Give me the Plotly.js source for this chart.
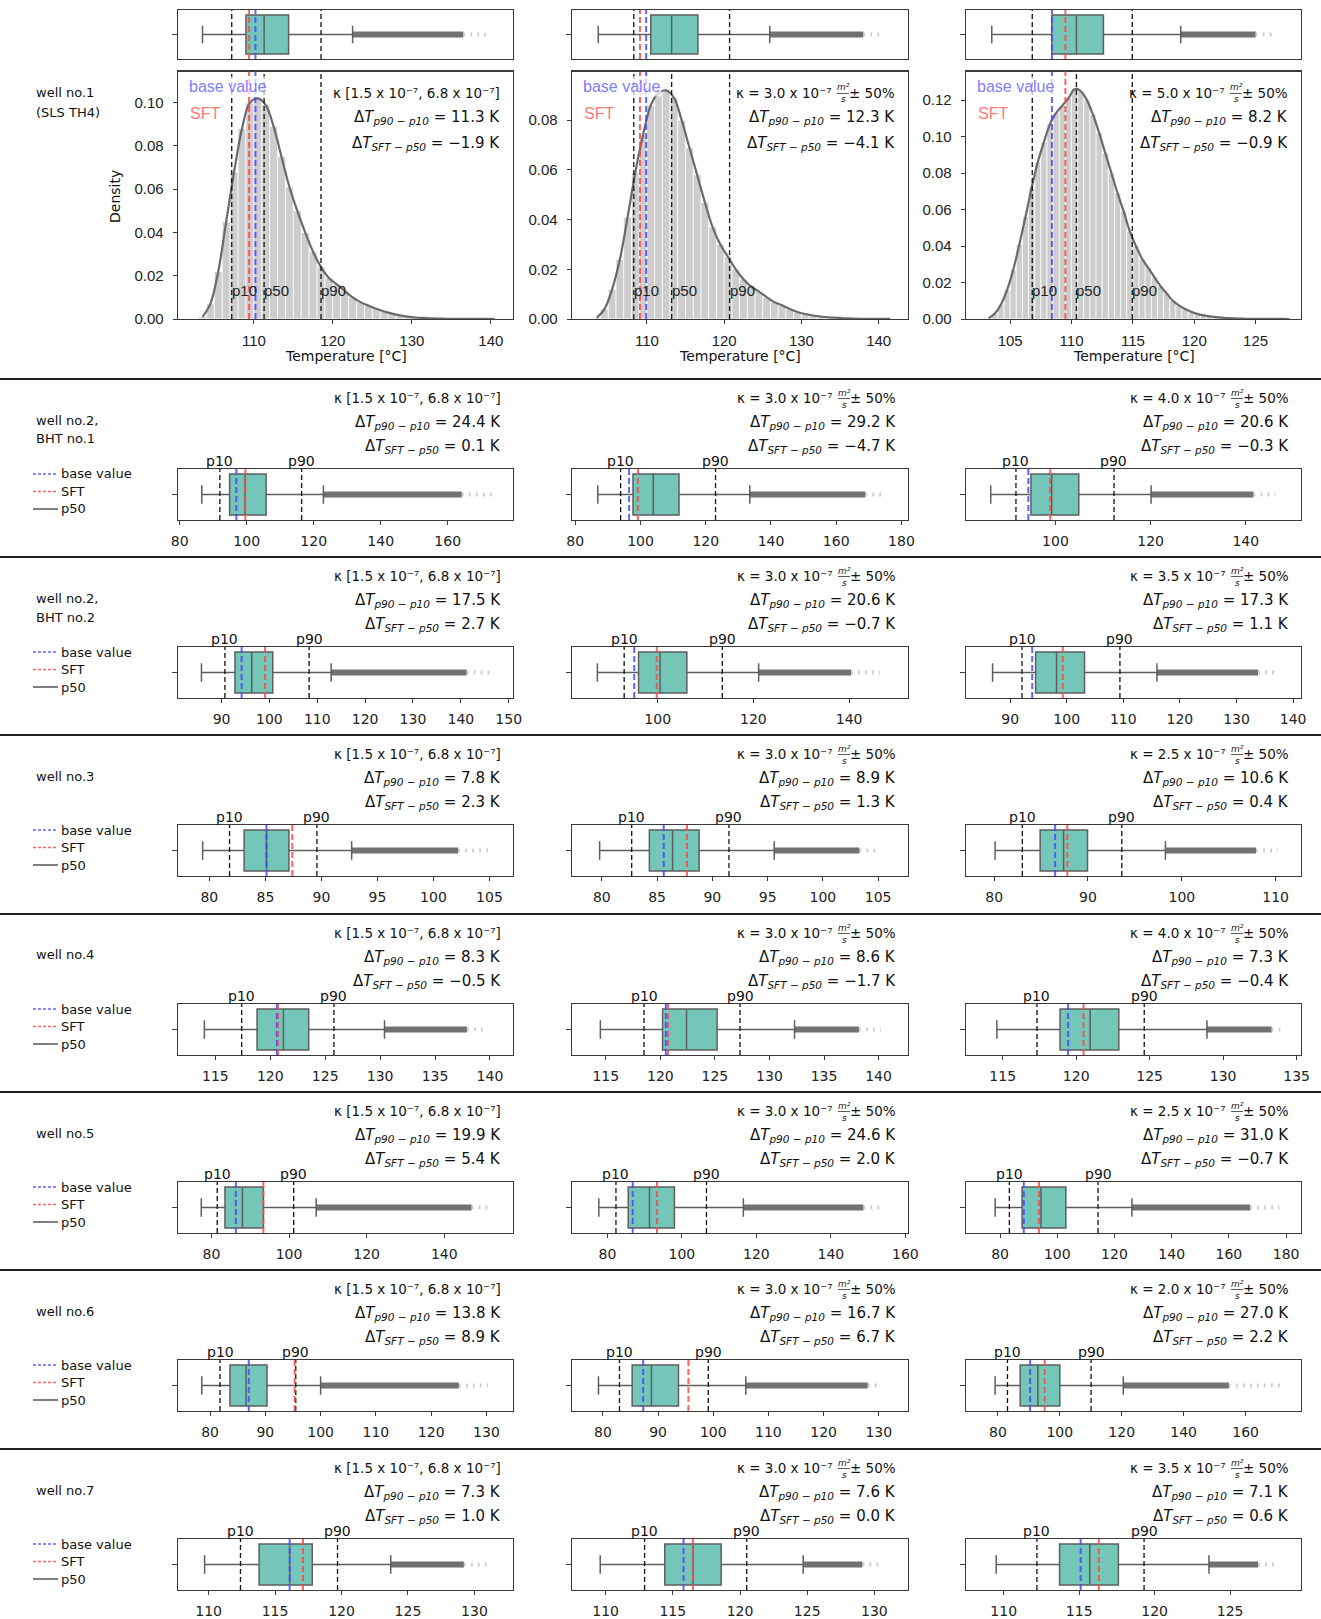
<!DOCTYPE html>
<html><head><meta charset="utf-8">
<script src="https://cdn.plot.ly/plotly-3.0.1.min.js"></script>
<style>html,body{margin:0;padding:0;background:#fff}#chart{width:1321px;height:1619px}</style>
</head><body><div id="chart"></div>
<script>
// ---------------- DATA ----------------
const wellLabels = [["well no.1","(SLS TH4)"],["well no.2,","BHT no.1"],["well no.2,","BHT no.2"],["well no.3"],["well no.4"],["well no.5"],["well no.6"],["well no.7"]];
const kappaValues = [[null,"3.0","5.0"],[null,"3.0","4.0"],[null,"3.0","3.5"],[null,"3.0","2.5"],[null,"3.0","4.0"],[null,"3.0","2.5"],[null,"3.0","2.0"],[null,"3.0","3.5"]];
const kappaRangeText = "κ [1.5 x 10⁻⁷, 6.8 x 10⁻⁷]";
const dTp90p10 = [[11.3,12.3,8.2],[24.4,29.2,20.6],[17.5,20.6,17.3],[7.8,8.9,10.6],[8.3,8.6,7.3],[19.9,24.6,31.0],[13.8,16.7,27.0],[7.3,7.6,7.1]];
const dTsftp50 = [[-1.9,-4.1,-0.9],[0.1,-4.7,-0.3],[2.7,-0.7,1.1],[2.3,1.3,0.4],[-0.5,-1.7,-0.4],[5.4,2.0,-0.7],[8.9,6.7,2.2],[1.0,0.0,0.6]];

const lowerWhisker = [[103.5,103.7,103.5],[86.6,86.9,86.4],[85.8,87.4,86.9],[79.4,79.8,80.1],[114.0,114.5,114.6],[77.4,77.7,78.3],[78.5,79.2,79.1],[109.7,109.6,109.5]];
const q1 = [[109.0,110.5,108.4],[94.9,97.7,94.85],[92.8,96.0,94.5],[83.1,84.3,84.9],[118.8,120.2,118.9],[83.5,85.6,87.7],[83.6,85.3,87.2],[113.8,114.4,113.7]];
const median = [[111.3,113.2,110.4],[99.5,103.9,99.2],[96.3,100.5,98.2],[85.1,86.4,87.4],[121.2,122.4,120.95],[88.0,91.3,94.3],[86.5,88.8,92.9],[116.1,116.5,115.7]];
const q3 = [[114.4,116.6,112.6],[105.8,111.8,104.9],[100.7,106.1,103.15],[87.1,88.8,89.95],[123.5,125.2,122.9],[93.4,98.0,103.0],[90.3,93.7,100.0],[117.8,118.6,117.6]];
const upperWhisker = [[122.5,125.9,118.9],[122.9,133.5,120.1],[112.9,121.1,115.95],[92.7,95.6,98.25],[130.4,132.3,128.9],[107.0,116.5,126.1],[100.0,105.9,120.5],[123.7,124.7,123.6]];
const p10 = [[107.2,108.3,106.8],[92.0,93.9,91.7],[90.7,93.0,92.1],[81.8,82.7,83.0],[117.4,118.5,117.33],[81.5,82.3,83.25],[81.8,83.0,83.1],[112.4,112.9,112.2]];
const p90 = [[118.5,120.7,114.95],[116.4,123.0,112.3],[108.3,113.5,109.4],[89.6,91.5,93.6],[125.8,127.3,124.63],[101.2,106.6,114.25],[95.5,99.1,110.1],[119.7,120.5,119.3]];
const baseValue = [[110.2,109.9,108.4],[96.9,96.5,94.3],[94.2,95.1,93.9],[85.1,85.6,86.5],[120.6,120.5,119.45],[86.3,86.8,88.3],[87.0,87.3,90.4],[116.1,115.8,115.1]];
const sftValue = [[109.4,109.1,109.5],[99.6,99.2,98.9],[99.1,99.8,99.3],[87.4,87.7,87.8],[120.7,120.7,120.5],[93.4,93.3,93.6],[95.3,95.5,95.1],[117.1,116.5,116.3]];
const flierDenseEnd = [[136.5,138.0,125.0],[164.2,168.9,141.6],[141.2,140.4,133.8],[102.2,103.3,107.9],[137.9,138.2,133.3],[147.0,148.7,167.4],[125.0,128.0,154.6],[129.2,129.1,126.85]];
const flierMax = [[139.9,140.5,126.5],[173.2,174.5,146.2],[146.0,146.5,136.8],[104.9,105.2,110.2],[139.7,140.2,133.9],[152.0,153.9,177.7],[130.3,130.3,171.2],[131.0,130.6,128.25]];

const xTickValues = [
 [[110,120,130,140],[110,120,130,140],[105,110,115,120,125]],
 [[80,100,120,140,160],[80,100,120,140,160,180],[100,120,140]],
 [[90,100,110,120,130,140,150],[100,120,140],[90,100,110,120,130,140]],
 [[80,85,90,95,100,105],[80,85,90,95,100,105],[80,90,100,110]],
 [[115,120,125,130,135,140],[115,120,125,130,135,140],[115,120,125,130,135]],
 [[80,100,120,140],[80,100,120,140,160],[80,100,120,140,160,180]],
 [[80,90,100,110,120,130],[80,90,100,110,120,130],[80,100,120,140,160]],
 [[110,115,120,125,130],[110,115,120,125,130],[110,115,120,125]]
];
const densityTickValues = [[0,0.02,0.04,0.06,0.08,0.10],[0,0.02,0.04,0.06,0.08],[0,0.02,0.04,0.06,0.08,0.10,0.12]];

const densBins1 = [103.5,104.5,105.5,106.5,107.5,108.5,109.5,110.5,111.5,112.5,113.5,114.5,115.5,116.5,117.5,118.5,119.5,120.5,121.5,122.5,123.5,124.5,125.5,126.5,127.5,128.5,129.5,130.5,131.5,132.5,133.5,134.5,135.5,136.5,137.5,138.5,139.5,140.5];
const densVals1 = [0.001,0.007,0.022,0.045,0.068,0.088,0.100,0.102,0.099,0.089,0.075,0.061,0.050,0.040,0.031,0.024,0.019,0.016,0.013,0.010,0.0078,0.0062,0.0047,0.0035,0.0025,0.0017,0.0011,0.0007,0.0005,0.0003,0.0002,0.0001,0.00008,0.00006,0.00004,0.00003,0.00002,0.00001];
const densBins2 = [103.5,104.5,105.5,106.5,107.5,108.5,109.5,110.5,111.5,112.5,113.5,114.5,115.5,116.5,117.5,118.5,119.5,120.5,121.5,122.5,123.5,124.5,125.5,126.5,127.5,128.5,129.5,130.5,131.5,132.5,133.5,134.5,135.5,136.5,137.5,138.5,139.5,140.5,141.5];
const densVals2 = [0.0005,0.004,0.012,0.024,0.041,0.059,0.074,0.086,0.091,0.092,0.089,0.080,0.069,0.058,0.047,0.037,0.030,0.025,0.020,0.016,0.013,0.011,0.0088,0.0068,0.0055,0.0040,0.0028,0.0020,0.0014,0.0010,0.0007,0.0005,0.0003,0.0002,0.0001,0.00008,0.00005,0.00003,0.00002];
const densBins3 = [103.25,103.75,104.25,104.75,105.25,105.75,106.25,106.75,107.25,107.75,108.25,108.75,109.25,109.75,110.25,110.75,111.25,111.75,112.25,112.75,113.25,113.75,114.25,114.75,115.25,115.75,116.25,116.75,117.25,117.75,118.25,118.75,119.25,119.75,120.25,120.75,121.25,121.75,122.25,122.75,123.25,123.75,124.25,124.75,125.25,125.75,126.25,126.75,127.25,127.75];
const densVals3 = [0.0005,0.003,0.008,0.016,0.027,0.041,0.056,0.072,0.086,0.097,0.107,0.113,0.117,0.121,0.126,0.125,0.120,0.112,0.102,0.091,0.080,0.069,0.059,0.048,0.040,0.033,0.028,0.023,0.018,0.014,0.010,0.0075,0.0055,0.004,0.0028,0.002,0.0014,0.001,0.0007,0.0005,0.0003,0.0002,0.0001,0.00008,0.00006,0.00005,0.00004,0.00003,0.00002,0.00001];
const densBins = [densBins1, densBins2, densBins3];
const densVals = [densVals1, densVals2, densVals3];
const densBinWidth = [1, 1, 0.5];

// ---------------- LAYOUT CONFIG ----------------
const xRanges = [
 [[100.4,142.8],[100.3,143.8],[101.4,128.7]],
 [[79.5,179.5],[79,182],[81.2,151.6]],
 [[80.9,150.9],[82.1,152.3],[82.2,141.4]],
 [[77.2,107.1],[77.3,107.7],[77.0,112.7]],
 [[111.6,142.1],[111.9,142.7],[112.5,135.3]],
 [[71.4,157.7],[70.5,160.7],[68.1,185.2]],
 [[74.2,134.8],[74.4,135.3],[69.7,177.9]],
 [[107.7,132.9],[107.5,132.5],[107.5,129.7]]
];
const densYTop = [0.1144, 0.0996, 0.1357];
const W = 1321, H = 1619;
const colFrames = [[178,513],[572,908],[966,1301]];
const rowTops = [379,557,735,914,1092,1270,1449];
const px = v => v / W;
const py = v => 1 - v / H;

const FRAME = '#3a3a3a';
const BOXFILL = '#74c7b8';
const BOXLINE = '#5e5e5e';
const BLUE = 'rgba(70,70,255,0.85)';
const RED = 'rgba(255,70,70,0.85)';
const SANS = 'Liberation Sans, Arial, sans-serif';
const DJV = 'DejaVu Sans, sans-serif';

const layout = {
  width: W, height: H, margin: {l:0, r:0, t:0, b:0},
  paper_bgcolor: '#ffffff', plot_bgcolor: 'rgba(0,0,0,0)', showlegend: false,
  font: {family: DJV, size: 13, color: '#111'},
  shapes: [], annotations: []
};
const traces = [];
let axisCount = 0;

const minus = v => (v < 0 ? '−' : '') + Math.abs(v).toFixed(1);

function makePanel(frame, yTop, yBot, xRange, yRange, xTicks, tickFont, yTicks) {
  axisCount++;
  const id = axisCount === 1 ? '' : String(axisCount);
  layout['xaxis' + id] = {
    domain: [px(frame[0]), px(frame[1])], range: xRange, anchor: 'y' + id,
    showline: true, mirror: true, linecolor: FRAME, linewidth: 1.3,
    showgrid: false, zeroline: false,
    ticks: xTicks ? 'outside' : '', ticklen: 4, tickwidth: 1, tickcolor: FRAME,
    tickmode: 'array', tickvals: xTicks || [], ticktext: (xTicks || []).map(String),
    showticklabels: !!xTicks, tickfont: tickFont, ticklabelstandoff: 4, fixedrange: true
  };
  const yax = {
    domain: [py(yBot), py(yTop)], range: yRange, anchor: 'x' + id,
    showline: true, mirror: true, linecolor: FRAME, linewidth: 1.3,
    showgrid: false, zeroline: false, fixedrange: true,
    ticks: 'outside', ticklen: 4, tickwidth: 1, tickcolor: FRAME, tickmode: 'array'
  };
  if (yTicks) {
    yax.tickvals = yTicks; yax.ticktext = yTicks.map(v => v.toFixed(2));
    yax.tickfont = {family: SANS, size: 15, color: '#222'}; yax.ticklabelstandoff = 6;
  } else {
    yax.tickvals = [0]; yax.showticklabels = false; yax.ticklen = 5;
  }
  layout['yaxis' + id] = yax;
  return {x: 'x' + id, y: 'y' + id};
}

function vline(ax, v, color, width, dash) {
  layout.shapes.push({type: 'line', xref: ax.x, yref: ax.y + ' domain', x0: v, x1: v, y0: 0, y1: 1,
    line: {color: color, width: width, dash: dash}, layer: 'above'});
}

function addBox(ax, r, c) {
  traces.push({type: 'scatter', mode: 'lines', x: [upperWhisker[r][c], flierDenseEnd[r][c]], y: [0, 0],
    xaxis: ax.x, yaxis: ax.y, line: {color: 'rgba(88,88,88,0.85)', width: 6}, hoverinfo: 'skip'});
  traces.push({type: 'scatter', mode: 'lines', x: [flierDenseEnd[r][c], flierMax[r][c]], y: [0, 0],
    xaxis: ax.x, yaxis: ax.y, line: {color: 'rgba(120,120,120,0.35)', width: 4, dash: '2px,5px'}, hoverinfo: 'skip'});
  traces.push({type: 'box', orientation: 'h', y: [0],
    q1: [q1[r][c]], median: [median[r][c]], q3: [q3[r][c]],
    lowerfence: [lowerWhisker[r][c]], upperfence: [upperWhisker[r][c]],
    xaxis: ax.x, yaxis: ax.y, width: 0.8, whiskerwidth: 0.45, boxpoints: false,
    fillcolor: BOXFILL, line: {color: BOXLINE, width: 1.5}, hoverinfo: 'skip'});
}

function percentileLines(ax, r, c, withP50) {
  vline(ax, p10[r][c], '#111', 1.3, '5px,3px');
  vline(ax, p90[r][c], '#111', 1.3, '5px,3px');
  if (withP50) vline(ax, median[r][c], '#111', 1.3, '5px,3px');
  vline(ax, baseValue[r][c], BLUE, 2, '6px,3px');
  vline(ax, sftValue[r][c], RED, 2, '6px,3px');
}

function ann(text, x, y, opts) {
  layout.annotations.push(Object.assign({text: text, x: x, y: y, xref: 'paper', yref: 'paper',
    showarrow: false, xanchor: 'left', yanchor: 'middle', font: {family: DJV, size: 15, color: '#111'}}, opts || {}));
}

function statBlock(r, c, R, yK, y1, y2) {
  const kf = {family: DJV, size: 13.5, color: '#111'};
  if (kappaValues[r][c] === null) {
    ann(kappaRangeText, px(R), py(yK), {xanchor: 'right', font: kf});
  } else {
    ann('± 50%', px(R), py(yK), {xanchor: 'right', font: kf});
    const fx = R - 54;
    ann('<i>m²</i>', px(fx), py(yK - 5.5), {xanchor: 'center', font: {family: DJV, size: 9, color: '#111'}});
    ann('<i>s</i>', px(fx), py(yK + 6.5), {xanchor: 'center', font: {family: DJV, size: 9, color: '#111'}});
    layout.shapes.push({type: 'line', xref: 'paper', yref: 'paper', x0: px(fx - 6), x1: px(fx + 6),
      y0: py(yK + 0.5), y1: py(yK + 0.5), line: {color: '#111', width: 0.7}});
    ann('κ = ' + kappaValues[r][c] + ' x 10⁻⁷', px(fx - 9), py(yK), {xanchor: 'right', font: kf});
  }
  ann('Δ<i>T</i><sub><i>p90 − p10</i></sub> = ' + minus(dTp90p10[r][c]) + ' K', px(R), py(y1), {xanchor: 'right'});
  ann('Δ<i>T</i><sub><i>SFT − p50</i></sub> = ' + minus(dTsftp50[r][c]) + ' K', px(R), py(y2), {xanchor: 'right'});
}

// ---------------- ROW 1 (density) ----------------
for (let c = 0; c < 3; c++) {
  const fr = colFrames[c];
  const top = makePanel(fr, 10, 59, xRanges[0][c], [-0.5, 0.5], null, null, null);
  addBox(top, 0, c);
  percentileLines(top, 0, c, false);

  const dn = makePanel(fr, 71.5, 319, xRanges[0][c], [0, densYTop[c]], xTickValues[0][c],
    {family: SANS, size: 15, color: '#222'}, densityTickValues[c]);
  traces.push({type: 'bar', x: densBins[c], y: densVals[c], width: densBinWidth[c], xaxis: dn.x, yaxis: dn.y,
    marker: {color: '#cdcdcd', line: {color: '#ffffff', width: 0.7}}, hoverinfo: 'skip'});
  traces.push({type: 'scatter', mode: 'lines', x: densBins[c], y: densVals[c], xaxis: dn.x, yaxis: dn.y,
    line: {color: '#6a6a6a', width: 2.2, shape: 'spline', smoothing: 1}, hoverinfo: 'skip'});
  percentileLines(dn, 0, c, true);

  [['p10', p10[0][c]], ['p50', median[0][c]], ['p90', p90[0][c]]].forEach(([t, v]) => {
    ann(t, v, py(290), {xref: dn.x, xshift: -2, font: {family: SANS, size: 15, color: '#222'}});
  });
  ann('base value', px(fr[0] + 9), py(86), {font: {family: SANS, size: 16, color: 'rgba(90,90,255,0.8)'},
    bgcolor: 'rgba(255,255,255,0.7)', borderpad: 1});
  ann('SFT', px(fr[0] + 10), py(113), {font: {family: SANS, size: 16, color: 'rgba(255,80,80,0.8)'}});
  statBlock(0, c, fr[1] - 11, 93, 118, 143);
  ann('Temperature [°C]', px((fr[0] + fr[1]) / 2), py(356), {xanchor: 'center', font: {family: DJV, size: 14, color: '#111'}});
}
ann('Density', px(115), py(197), {xanchor: 'center', textangle: -90, font: {family: DJV, size: 14, color: '#111'}});
wellLabels[0].forEach((t, i) => ann(t, px(34), py(93 + 19 * i), {font: {family: DJV, size: 13, color: '#111'}}));

// ---------------- ROWS 2-8 (box plots) ----------------
for (let r = 1; r < 8; r++) {
  const t = rowTops[r - 1];
  for (let c = 0; c < 3; c++) {
    const fr = colFrames[c];
    const ax = makePanel(fr, t + 90, t + 141, xRanges[r][c], [-0.5, 0.5], xTickValues[r][c],
      {family: DJV, size: 14, color: '#222'}, null);
    addBox(ax, r, c);
    percentileLines(ax, r, c, false);
    statBlock(r, c, fr[1] - 10, t + 19, t + 43, t + 67);
    ann('p10', p10[r][c], py(t + 82), {xref: ax.x, xanchor: 'center', font: {family: DJV, size: 14, color: '#111'}});
    ann('p90', p90[r][c], py(t + 82), {xref: ax.x, xanchor: 'center', font: {family: DJV, size: 14, color: '#111'}});
  }
  wellLabels[r].forEach((s, i) => ann(s, px(34), py(t + 41 + 19 * i), {font: {family: DJV, size: 13, color: '#111'}}));
  const leg = [['base value', BLUE, '3px,2px'], ['SFT', RED, '3px,2px'], ['p50', '#555', 'solid']];
  leg.forEach(([label, col, dash], i) => {
    const yy = t + 95 + 17.5 * i;
    layout.shapes.push({type: 'line', xref: 'paper', yref: 'paper', x0: px(33), x1: px(58), y0: py(yy), y1: py(yy),
      line: {color: col, width: 1.5, dash: dash}});
    ann(label, px(59), py(yy), {font: {family: DJV, size: 13, color: '#111'}});
  });
}

rowTops.forEach(t => layout.shapes.push({type: 'line', xref: 'paper', yref: 'paper', x0: 0, x1: 1, y0: py(t), y1: py(t),
  line: {color: '#1e1e1e', width: 2}}));

Plotly.newPlot('chart', traces, layout, {displayModeBar: false, staticPlot: true});
</script>
</body></html>
